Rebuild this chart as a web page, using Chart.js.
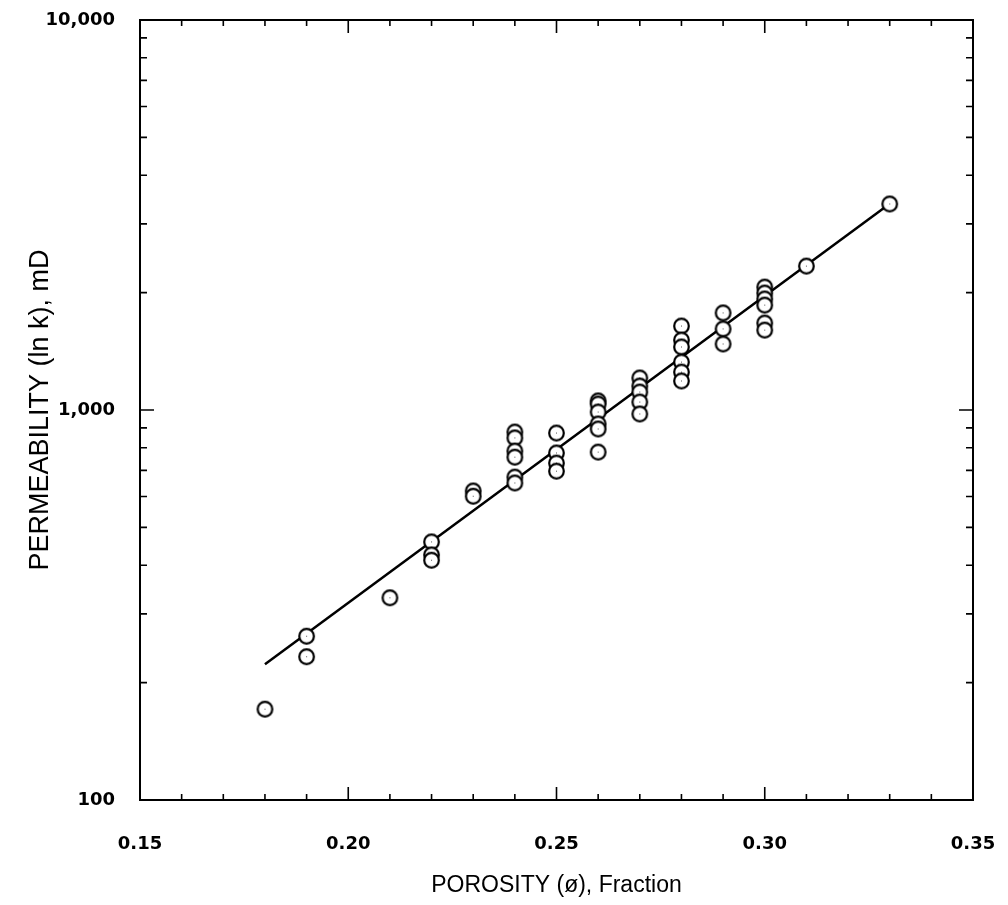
<!DOCTYPE html>
<html><head><meta charset="utf-8">
<script src="https://cdn.jsdelivr.net/npm/chart.js@4.4.0/dist/chart.umd.min.js"></script>
<style>html,body{margin:0;padding:0;background:#fff;overflow:hidden}#wrap{width:1008px;height:905px;position:relative}</style>
</head><body><div id="wrap"><canvas id="c"></canvas></div>
<script>
// ---- data ----
const porosity = [0.18, 0.19, 0.19, 0.21, 0.22, 0.22, 0.22, 0.23, 0.23,
  0.24, 0.24, 0.24, 0.24, 0.24, 0.24,
  0.25, 0.25, 0.25, 0.25,
  0.26, 0.26, 0.26, 0.26, 0.26, 0.26,
  0.27, 0.27, 0.27, 0.27, 0.27,
  0.28, 0.28, 0.28, 0.28, 0.28, 0.28,
  0.29, 0.29, 0.29,
  0.30, 0.30, 0.30, 0.30, 0.30, 0.30,
  0.31, 0.33];
const permeability = [171, 263, 233, 330, 459, 425, 412, 620, 601,
  878, 848, 785, 757, 673, 650,
  873, 776, 731, 697,
  1055, 1036, 988, 921, 894, 780,
  1208, 1152, 1112, 1048, 977,
  1642, 1511, 1451, 1327, 1251, 1187,
  1774, 1614, 1477,
  2066, 1995, 1926, 1858, 1671, 1603,
  2339, 3375];
const fitPorosity = [0.18, 0.33];
const fitPermeability = [223, 3380];
const xTickValues = [0.15, 0.20, 0.25, 0.30, 0.35];
const yTickValues = [100, 1000, 10000];
const xTitle = 'POROSITY (\u00f8), Fraction';
const yTitle = 'PERMEABILITY (ln k), mD';

// marker: open circle with a tiny centre dot
const mk = document.createElement('canvas');
mk.width = 19; mk.height = 19;
(function(){
  const g = mk.getContext('2d');
  g.beginPath(); g.arc(9.5, 9.5, 7.3, 0, Math.PI * 2);
  g.fillStyle = '#fff'; g.fill();
  g.lineWidth = 2.2; g.strokeStyle = '#000'; g.stroke();
  g.fillStyle = '#555'; g.fillRect(9, 9, 1, 1);
})();

const LAB = "'DejaVu Sans', Verdana, sans-serif";
const TIT = "'Liberation Sans', Arial, Helvetica, sans-serif";

const frameTicks = {
  id: 'frameTicks',
  afterDatasetsDraw(chart) {
    const {ctx, chartArea: a, scales: {x, y}} = chart;
    ctx.save();
    ctx.strokeStyle = '#000';
    ctx.lineWidth = 2;
    ctx.strokeRect(a.left, a.top, a.right - a.left, a.bottom - a.top);
    ctx.lineWidth = 1.6;
    ctx.beginPath();
    for (let i = 0; i <= 20; i++) {
      const v = x.min + i * (x.max - x.min) / 20;
      const px = x.getPixelForValue(v);
      const len = (i % 5 === 0) ? 13 : 6;
      ctx.moveTo(px, a.bottom); ctx.lineTo(px, a.bottom - len);
      ctx.moveTo(px, a.top); ctx.lineTo(px, a.top + len);
    }
    for (let d = y.min; d < y.max; d *= 10) {
      for (let k = 1; k <= 10; k++) {
        const py = y.getPixelForValue(k * d);
        const len = (k === 1 || k === 10) ? 14 : 7;
        ctx.moveTo(a.left, py); ctx.lineTo(a.left + len, py);
        ctx.moveTo(a.right, py); ctx.lineTo(a.right - len, py);
      }
    }
    ctx.stroke();
    ctx.restore();
  }
};

function noPad(s) { s.paddingTop = 0; s.paddingBottom = 0; s.paddingLeft = 0; s.paddingRight = 0; }

new Chart(document.getElementById('c'), {
  type: 'scatter',
  data: {
    datasets: [
      {
        type: 'line',
        data: fitPorosity.map((v, i) => ({x: v, y: fitPermeability[i]})),
        borderColor: '#000', borderWidth: 2.5, pointRadius: 0, fill: false, order: 2
      },
      {
        data: porosity.map((v, i) => ({x: v, y: permeability[i]})),
        pointStyle: mk, pointRadius: 9, order: 1
      }
    ]
  },
  options: {
    responsive: true,
    maintainAspectRatio: false,
    animation: false,
    events: [],
    layout: {padding: {top: 20, right: 35, left: 0, bottom: 0}},
    plugins: {legend: {display: false}, tooltip: {enabled: false}},
    scales: {
      x: {
        type: 'linear', min: 0.15, max: 0.35,
        afterBuildTicks: s => { s.ticks = xTickValues.map(v => ({value: v})); },
        afterFit: s => { s.height = 105; noPad(s); },
        grid: {display: false, drawTicks: false},
        border: {display: false},
        ticks: {
          padding: 34, color: '#000', maxRotation: 0, autoSkip: false,
          font: {family: LAB, size: 18, weight: 'bold'},
          callback: v => v.toFixed(2)
        },
        title: {
          display: true, text: xTitle, color: '#000',
          font: {family: TIT, size: 23, weight: 'normal'},
          padding: {top: 0, bottom: 6}
        }
      },
      y: {
        type: 'logarithmic', min: 100, max: 10000,
        afterBuildTicks: s => { s.ticks = yTickValues.map(v => ({value: v})); },
        afterFit: s => { s.width = 140; noPad(s); },
        grid: {display: false, drawTicks: false},
        border: {display: false},
        ticks: {
          padding: 25, color: '#000', autoSkip: false,
          font: {family: LAB, size: 18, weight: 'bold'},
          callback: v => Number(v).toLocaleString('en-US')
        },
        title: {
          display: true, text: yTitle, color: '#000',
          font: {family: TIT, size: 27, weight: 'normal'},
          padding: {top: 24, bottom: 0}
        }
      }
    }
  },
  plugins: [frameTicks]
});
</script>
</body></html>
